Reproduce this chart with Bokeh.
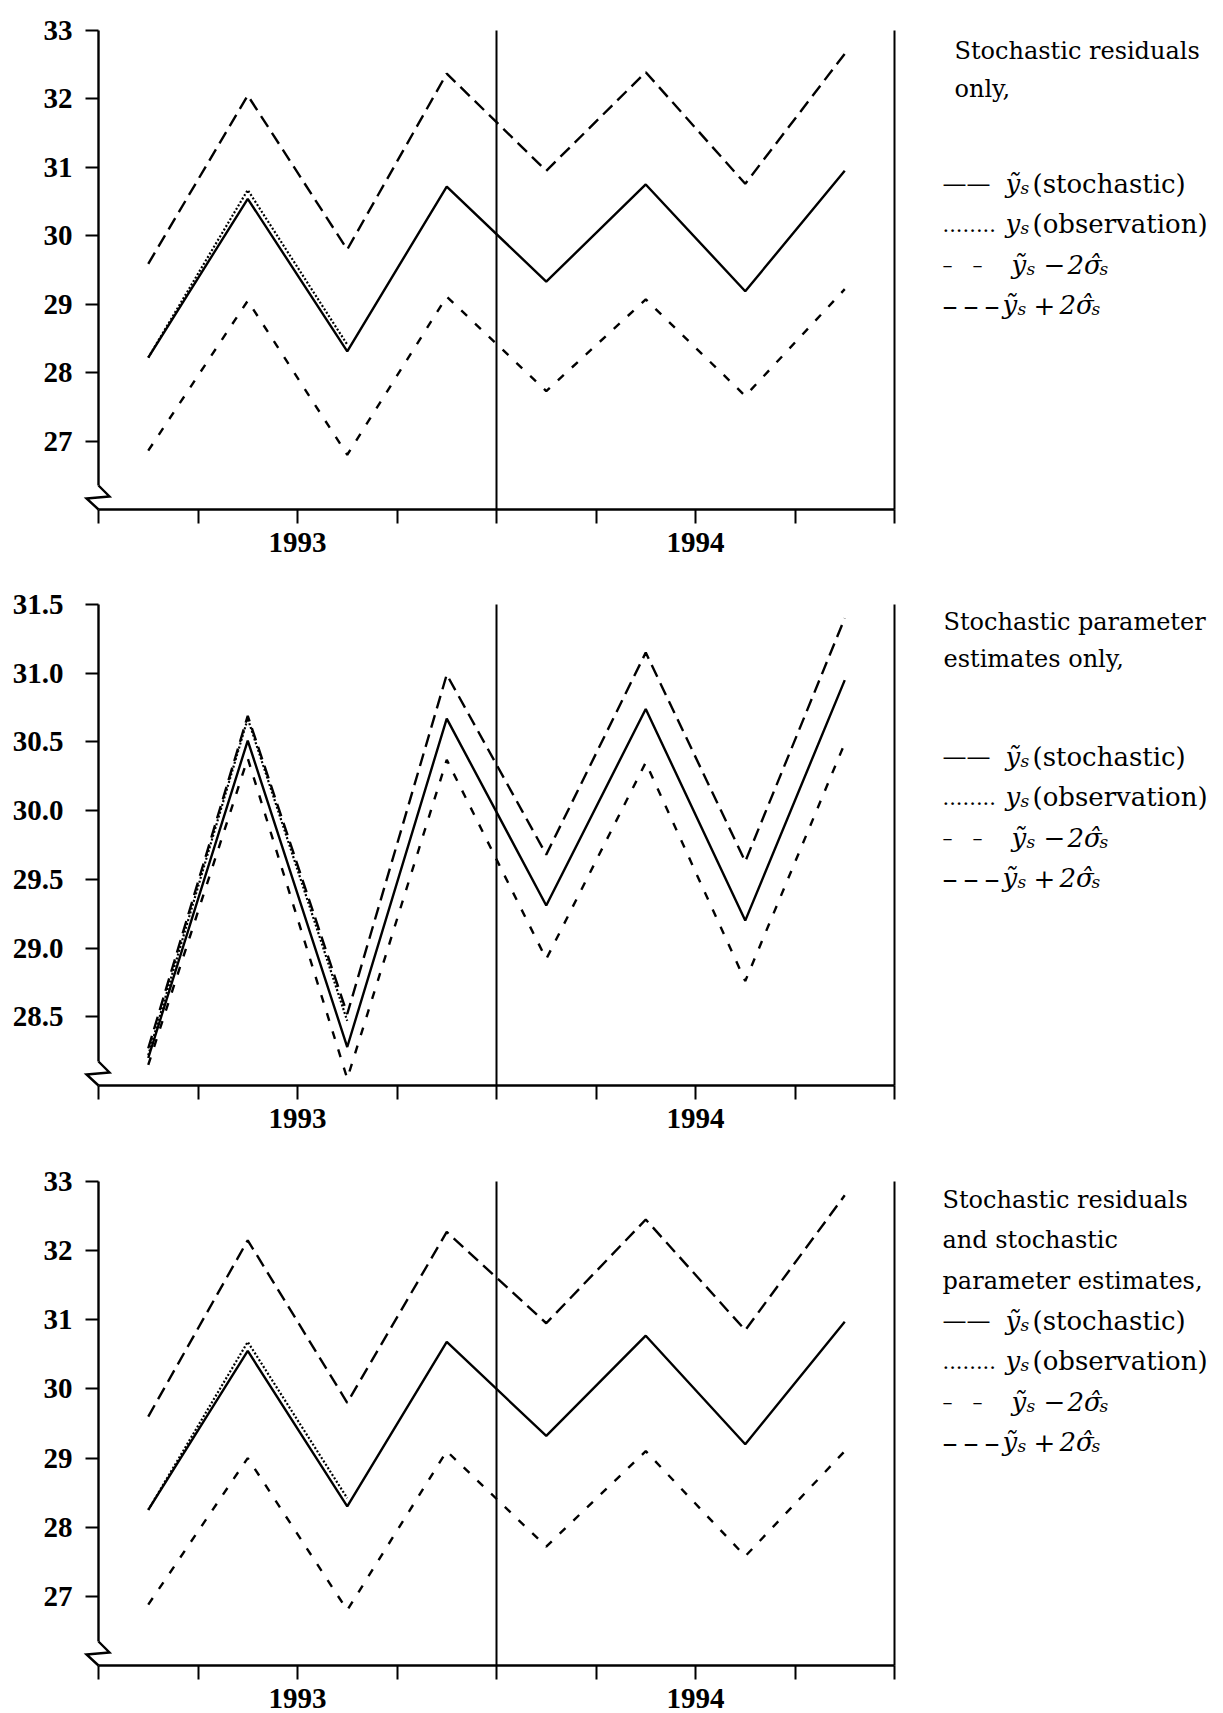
from bokeh.plotting import figure
from bokeh.layouts import column
from bokeh.models import (Range1d, FixedTicker, Label, PrintfTickFormatter,
                          CustomJSTickFormatter)
from bokeh.embed import file_html
from bokeh.resources import INLINE

# ---------------- data ----------------
quarters = ["1993Q1", "1993Q2", "1993Q3", "1993Q4", "1994Q1", "1994Q2", "1994Q3", "1994Q4"]
x_ticks = [1993.0, 1993.25, 1993.5, 1993.75, 1994.0, 1994.25, 1994.5, 1994.75, 1995.0]
year_labels = {1993.5: "1993", 1994.5: "1994"}

top_stoch = [28.22, 30.54, 28.31, 30.72, 29.33, 30.75, 29.19, 30.95]
top_obs = [28.22, 30.67, 28.41]
top_upper = [29.59, 32.05, 29.80, 32.37, 30.95, 32.39, 30.76, 32.66]
top_lower = [26.86, 29.05, 26.80, 29.11, 27.73, 29.07, 27.66, 29.22]
top_yticks = [27, 28, 29, 30, 31, 32, 33]

mid_stoch = [28.20, 30.51, 28.28, 30.67, 29.31, 30.74, 29.20, 30.95]
mid_obs = [28.22, 30.67, 28.47]
mid_upper = [28.27, 30.69, 28.52, 30.99, 29.68, 31.15, 29.63, 31.40]
mid_lower = [28.15, 30.38, 28.05, 30.37, 28.92, 30.35, 28.76, 30.49]
mid_yticks = [28.5, 29.0, 29.5, 30.0, 30.5, 31.0, 31.5]

bot_stoch = [28.25, 30.55, 28.30, 30.68, 29.32, 30.77, 29.20, 30.97]
bot_obs = [28.25, 30.68, 28.42]
bot_upper = [29.60, 32.15, 29.80, 32.27, 30.95, 32.45, 30.85, 32.80]
bot_lower = [26.88, 29.00, 26.80, 29.10, 27.72, 29.10, 27.58, 29.10]
bot_yticks = [27, 28, 29, 30, 31, 32, 33]

titles_top = ["Stochastic residuals", "only,"]
titles_mid = ["Stochastic parameter", "estimates only,"]
titles_bot = ["Stochastic residuals", "and stochastic", "parameter estimates,"]

# quarter mid-points on a numeric time axis
x = [int(q[:4]) + (int(q[-1]) - 0.5) / 4 for q in quarters]

# ---------------- layout constants ----------------
FIG_W = 1223
PPX = 398.0            # pixels per year
X0, X1 = 1993.0, 1995.0
AX_LEFT = 98           # canvas x of the y axis
SERIF = "DejaVu Serif"
TICK_FONT = "Liberation Serif"
TICK_SIZE = "29px"
LW = 2.4

xfmt_code = "const m = %s; const k = tick.toFixed(2); return (k in m) ? m[k] : '';" % (
    "{" + ", ".join("'%.2f': '%s'" % (k, v) for k, v in year_labels.items()) + "}")


def make_panel(fig_h, top_px, axis_px, ytop, ybot, yticks, yfmt, stoch, obs, upper, lower,
               titles, title_x, title_base, row1, lx, ylab_standoff):
    ppu = (axis_px - top_px) / (ytop - ybot)
    # the frame covers the whole canvas; axes are placed at fixed data locations
    xr = Range1d(X0 - AX_LEFT / PPX, X0 + (FIG_W - AX_LEFT) / PPX)
    yr = Range1d(ybot - (fig_h - axis_px) / ppu, ytop + top_px / ppu)
    p = figure(width=FIG_W, height=fig_h, x_range=xr, y_range=yr,
               output_backend="svg", toolbar_location=None,
               min_border=0, min_border_left=0, min_border_right=0,
               min_border_top=0, min_border_bottom=0)
    p.outline_line_color = None
    p.grid.visible = False
    p.background_fill_color = "white"
    p.border_fill_color = "white"

    def X(px):
        return X0 + (px - AX_LEFT) / PPX

    def Y(py):
        return ytop - (py - top_px) / ppu

    # data lines
    p.line(x, upper, line_color="black", line_width=LW, line_dash="13 7")
    p.line(x, lower, line_color="black", line_width=LW, line_dash="8 11")
    p.line(x[:len(obs)], obs, line_color="black", line_width=2.2, line_dash="2 2")
    p.line(x, stoch, line_color="black", line_width=LW)

    # vertical lines at the year boundary and at the right edge
    p.segment(x0=[1994.0, X1], y0=[ybot, ybot], x1=[1994.0, X1], y1=[ytop, ytop],
              line_color="black", line_width=2.0)

    # axis break (zig-zag) between y axis and x axis
    p.line([X0, X0 + 11 / PPX, X0 - 12 / PPX, X0],
           [ybot + 24 / ppu, ybot + 13 / ppu, ybot + 11 / ppu, ybot],
           line_color="black", line_width=2.4, line_join="miter")

    # x axis
    xa = p.xaxis[0]
    xa.fixed_location = ybot
    xa.ticker = FixedTicker(ticks=x_ticks)
    xa.formatter = CustomJSTickFormatter(code=xfmt_code)
    xa.bounds = (X0, X1)
    xa.axis_line_width = 2.6
    xa.major_tick_out = 14
    xa.major_tick_in = 0
    xa.major_tick_line_width = 2
    xa.minor_tick_line_color = None
    xa.major_label_standoff = 9
    xa.major_label_text_font = TICK_FONT
    xa.major_label_text_font_size = TICK_SIZE
    xa.major_label_text_font_style = "bold"
    xa.major_label_text_color = "black"

    # y axis (line stops at the break)
    ya = p.yaxis[0]
    ya.fixed_location = X0
    ya.ticker = FixedTicker(ticks=yticks)
    ya.formatter = PrintfTickFormatter(format=yfmt)
    ya.bounds = (ybot + 24 / ppu, ytop)
    ya.axis_line_width = 2.4
    ya.major_tick_out = 13
    ya.major_tick_in = 0
    ya.major_tick_line_width = 2
    ya.minor_tick_line_color = None
    ya.major_label_standoff = ylab_standoff
    ya.major_label_text_font = TICK_FONT
    ya.major_label_text_font_size = TICK_SIZE
    ya.major_label_text_font_style = "bold"
    ya.major_label_text_color = "black"

    def lab(px, py, text, size=26, style="normal"):
        p.add_layout(Label(x=X(px), y=Y(py), text=text, text_font=SERIF,
                           text_font_size=f"{size}px", text_font_style=style,
                           text_baseline="alphabetic", text_align="left",
                           text_color="black"))

    for t, b in zip(titles, title_base):
        lab(title_x, b, t, size=24)

    r1, r2, r3, r4 = [row1 + 40.5 * i for i in range(4)]
    SUB = 17
    # row 1
    lab(lx, r1, "\u2014\u2014", size=24)
    lab(lx + 63, r1, "\u1ef9", style="italic")
    lab(lx + 78, r1 + 4, "s", size=SUB, style="italic")
    lab(lx + 90, r1, "(stochastic)")
    # row 2
    lab(lx, r2, "........", size=21)
    lab(lx + 63, r2, "y", style="italic")
    lab(lx + 78, r2 + 4, "s", size=SUB, style="italic")
    lab(lx + 90, r2, "(observation)")
    # row 3
    lab(lx, r3, "\u2013\u2003\u2013", size=20)
    lab(lx + 69, r3, "\u1ef9", style="italic")
    lab(lx + 84, r3 + 4, "s", size=SUB, style="italic")
    lab(lx + 101, r3, "\u2212")
    lab(lx + 125, r3, "2\u03c3\u0302", style="italic")
    lab(lx + 157, r3 + 4, "s", size=SUB, style="italic")
    # row 4
    lab(lx, r4, "\u2013\u2009\u2013\u2009\u2013", size=30)
    lab(lx + 60, r4, "\u1ef9", style="italic")
    lab(lx + 75, r4 + 4, "s", size=SUB, style="italic")
    lab(lx + 91, r4, "+")
    lab(lx + 117, r4, "2\u03c3\u0302", style="italic")
    lab(lx + 149, r4 + 4, "s", size=SUB, style="italic")
    return p


p1 = make_panel(570, 30, 509, 33.0, 26.0, top_yticks, "%d",
                top_stoch, top_obs, top_upper, top_lower,
                titles_top, 954, [50, 88], 183, 942, 13)
p2 = make_panel(570, 34, 515, 31.5, 28.0, mid_yticks, "%.1f",
                mid_stoch, mid_obs, mid_upper, mid_lower,
                titles_mid, 943, [51, 88], 186, 942, 22)
p3 = make_panel(573, 41, 525, 33.0, 26.0, bot_yticks, "%d",
                bot_stoch, bot_obs, bot_upper, bot_lower,
                titles_bot, 942, [59, 99, 140], 180, 942, 13)

layout = column(p1, p2, p3, spacing=0)
open("out.html", "w").write(file_html(layout, INLINE))
